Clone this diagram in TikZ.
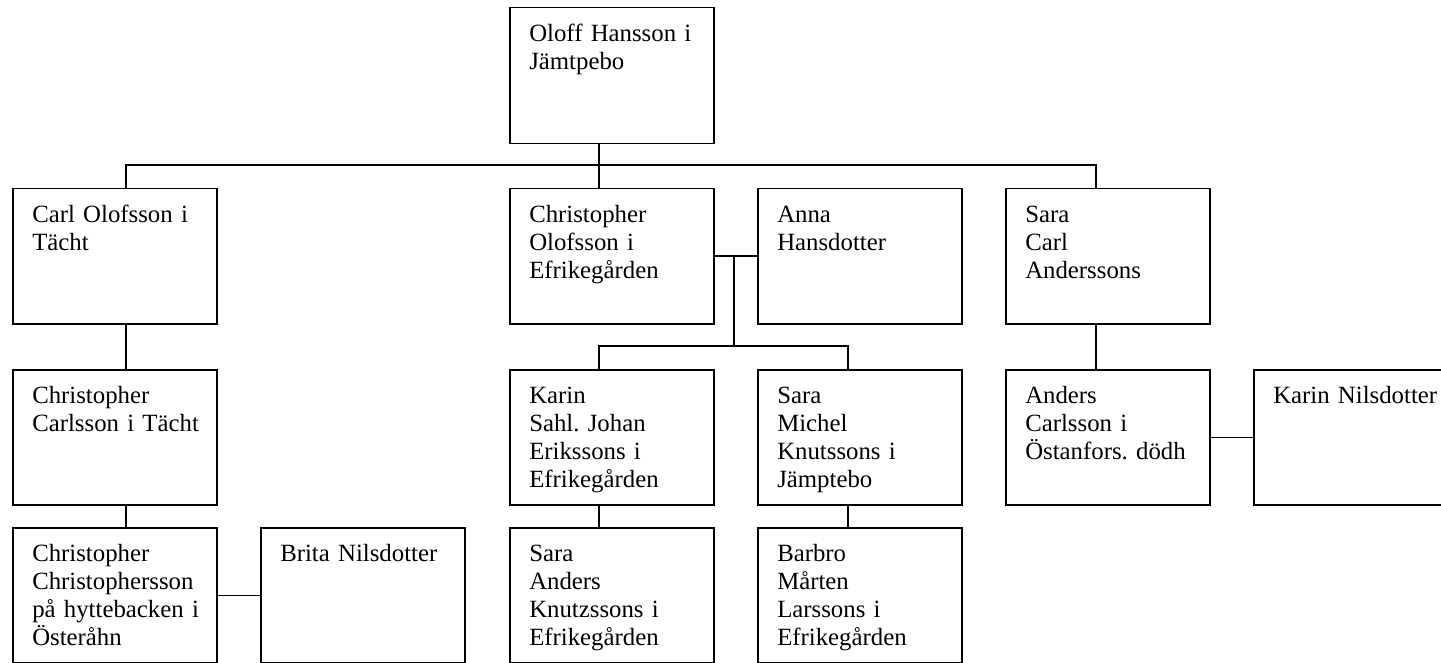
\documentclass[tikz,border=0pt]{standalone}
\usepackage{fontspec}
\setmainfont{Liberation Serif}
\frenchspacing

\begin{document}
\begin{tikzpicture}[x=1pt, y=-1pt, line width=1.5pt,
    person/.style={draw, anchor=north west, minimum width=204pt, minimum height=135pt, inner sep=0pt},
    who/.style={anchor=north west, inner xsep=19.5pt, inner ysep=13.5pt, text width=180pt, align=left,
        font=\fontsize{24.8}{28.3}\selectfont, execute at begin node=\strut}]
    \useasboundingbox (0,0) rectangle (1441,663);
    % generation 1
    \node [person, minimum height=136pt, label={[who]north west:Oloff Hansson i\\Jämtpebo}] (oloff) at (509,7) {};
    % generation 2
    \node [person, label={[who]north west:Carl Olofsson i\\Tächt}] (carl) at (12,188) {};
    \node [person, label={[who]north west:Christopher\\Olofsson i\\Efrikegården}] (chris) at (509,188) {};
    \node [person, label={[who]north west:Anna\\Hansdotter}] (anna) at (757,188) {};
    \node [person, label={[who]north west:Sara\\Carl\\Anderssons}] (sara) at (1005,188) {};
    % generation 3
    \node [person, label={[who]north west:Christopher\\Carlsson i Tächt}] (chrisc) at (12,369) {};
    \node [person, label={[who]north west:Karin\\Sahl. Johan\\Erikssons i\\Efrikegården}] (karin) at (509,369) {};
    \node [person, label={[who]north west:Sara\\Michel\\Knutssons i\\Jämptebo}] (saram) at (757,369) {};
    \node [person, label={[who]north west:Anders\\Carlsson i\\Östanfors. dödh}] (anders) at (1005,369) {};
    \node [person, label={[who]north west:Karin Nilsdotter}] (karinn) at (1253,369) {};
    % generation 4
    \node [person, label={[who]north west:Christopher\\Christophersson\\på hyttebacken i\\Österåhn}] (chriscc) at (12,527) {};
    \node [person, label={[who]north west:Brita Nilsdotter}] (brita) at (260,527) {};
    \node [person, label={[who]north west:Sara\\Anders\\Knutzssons i\\Efrikegården}] (saraa) at (509,527) {};
    \node [person, label={[who]north west:Barbro\\Mårten\\Larssons i\\Efrikegården}] (barbro) at (757,527) {};
    % connectors
    \coordinate (fork) at (599,165);
    \coordinate (kids) at (734,346);
    \draw (oloff.south -| fork) -- (fork);
    \draw (carl.north -| 126,0) |- (fork) -| (sara.north -| 1096,0);
    \draw (fork) -- (chris.north -| fork);
    \draw (chris.east) -- (anna.west);
    \draw (chris.east -| kids) -- (kids);
    \draw (karin.north -| 599,0) |- (kids) -| (saram.north -| 848,0);
    \draw (carl.south -| 126,0) -- (chrisc.north -| 126,0);
    \draw (chrisc.south -| 126,0) -- (chriscc.north -| 126,0);
    \draw (chriscc.east) -- (brita.west);
    \draw (karin.south -| 599,0) -- (saraa.north -| 599,0);
    \draw (saram.south -| 848,0) -- (barbro.north -| 848,0);
    \draw (sara.south -| 1096,0) -- (anders.north -| 1096,0);
    \draw (anders.east) -- (karinn.west);
\end{tikzpicture}
\end{document}
